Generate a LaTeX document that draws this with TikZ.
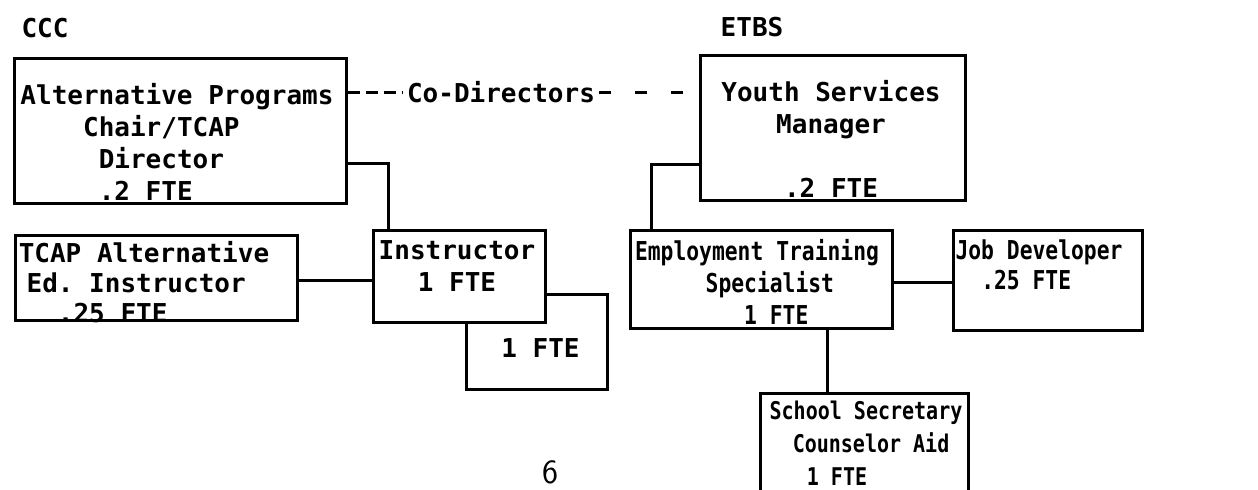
\documentclass[tikz,border=0pt]{standalone}
\usepackage{fontspec}
\usetikzlibrary{calc}
\newfontfamily\typer{DejaVu Sans Mono}
\newfontfamily\narrowtyper[FakeStretch=0.82]{DejaVu Sans Mono}
\newlength{\cw}\setlength{\cw}{7.83pt}
\newlength{\ncw}\setlength{\ncw}{6.42pt}
\newcommand{\ind}[1]{\hspace*{#1\cw}}
\newcommand{\nind}[1]{\hspace*{#1\ncw}}
\frenchspacing
\tikzset{
  unit/.style={draw, line width=1.5pt, fill=white, inner sep=0pt},
  txt/.style={font=\typer\bfseries\fontsize{13}{16}\selectfont, align=left, inner sep=0pt},
  ntxt/.style={font=\narrowtyper\bfseries\fontsize{13}{16}\selectfont, align=left, inner sep=0pt},
  link/.style={line width=1.5pt},
}
\begin{document}
\begin{tikzpicture}[x=0.5pt,y=-0.5pt]
  \useasboundingbox (0,0) rectangle (1258,489);
  \clip (0,0) rectangle (1258,489);
  % CCC side
  \node[txt] (ccc) at (45,28) {CCC};
  \node[unit, minimum width=166pt, minimum height=72.5pt] (dir) at (180,130.5) {};
  \node[txt] (dir-t) at (177,141.5) {Alternative Programs\\\ind{4}Chair/TCAP\\\ind{5}Director\\\ind{5}.2 FTE};
  \node[unit, minimum width=141pt, minimum height=42.5pt] (tcap) at (156,277.5) {};
  \node[txt] (tcap-t) at (144,282.5) {TCAP Alternative\\[-1pt]\ind{0.5}Ed. Instructor\\[-1pt]\ind{2.5}.25 FTE};
  \node[unit, minimum width=70.5pt, minimum height=47.5pt] (ins2) at (536.5,341.5) {};
  \node[txt] (ins2-t) at (540.5,348) {1 FTE};
  \node[unit, minimum width=86pt, minimum height=46pt] (ins) at (459,276) {};
  \node[txt, align=center] (ins-t) at (457,266) {Instructor\\1 FTE};
  % ETBS side
  \node[txt] (etbs) at (752,27) {ETBS};
  \node[unit, minimum width=132.5pt, minimum height=72.5pt] (ysm) at (832.5,127.5) {};
  \node[txt] (ysm-t) at (831,138.5) {Youth Services\\\ind{3.5}Manager\\[16pt]\ind{4}.2 FTE};
  \node[unit, minimum width=131pt, minimum height=49pt] (ets) at (761,279) {};
  \node[ntxt] (ets-t) at (757,281.5) {Employment Training\\\nind{5.5}Specialist\\\nind{8.5}1 FTE};
  \node[unit, minimum width=94.5pt, minimum height=50pt] (job) at (1047.5,280) {};
  \node[ntxt] (job-t) at (1039,265) {Job Developer\\[-1pt]\nind{2}.25 FTE};
  \node[unit, minimum width=104pt, minimum height=73.5pt] (sch) at (864,466.5) {};
  \node[ntxt, font=\narrowtyper\bfseries\fontsize{12.2}{16.5}\selectfont] (sch-t) at (866,443) {School Secretary\\\nind{1.8}Counselor Aid\\\nind{2.9}1 FTE};
  \node[font=\sffamily\fontsize{17}{17}\selectfont, inner sep=0pt] (pg) at (550,472) {6};
  % co-directors
  \node[txt, inner xsep=2pt] (codir) at (501,92) {Co-Directors};
  \draw[link, dash pattern=on 6pt off 3pt] (dir.east |- codir.west) -- (codir.west);
  \draw[link, dash pattern=on 6pt off 12pt] (codir.east) -- (ysm.west |- codir.east);
  % lines
  \draw[link] ($(dir.south east)+(0,-41)$) -| ($(ins.north west)+(17,0)$);
  \draw[link] (tcap.east |- 0,280) -- (ins.west |- 0,280);
  \draw[link] ($(ysm.south west)+(0,-37)$) -| ($(ets.north west)+(23,0)$);
  \draw[link] (ets.east |- 0,282) -- (job.west |- 0,282);
  \draw[link] (ets.south -| 827,0) -- (sch.north -| 827,0);
\end{tikzpicture}
\end{document}
